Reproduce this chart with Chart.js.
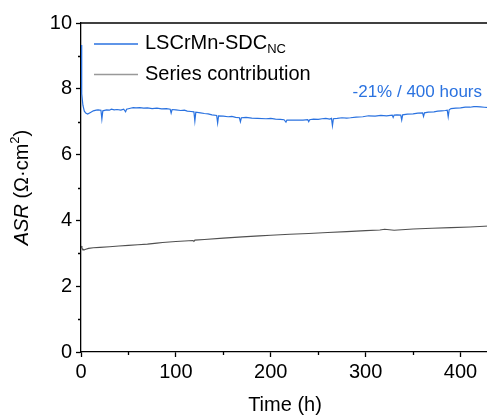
<!DOCTYPE html>
<html>
<head>
<meta charset="utf-8">
<script src="https://cdn.jsdelivr.net/npm/chart.js@4/dist/chart.umd.min.js"></script>
<style>
  html, body { margin: 0; padding: 0; background: #fff; overflow: hidden; }
  #wrap { width: 489px; height: 415px; }
</style>
</head>
<body>
<div id="wrap"><canvas id="myChart" width="489" height="415"></canvas></div>
<script>
// LSCrMn-SDC_NC cell ASR vs time
let timeCell = [0, 0.5, 1, 2, 3.5, 5, 7, 10, 13, 16, 18, 21, 22, 23, 27, 30, 32, 35, 38, 42, 45, 47, 48, 52, 55, 58, 62, 66, 70, 75, 80, 85, 90, 94, 95, 96,
    100, 105, 109, 112, 116, 119, 120, 121, 126, 130, 134, 138, 143, 144, 145, 150, 155, 159, 163, 167, 168, 169, 174, 180, 186, 195, 200, 205, 210, 214, 216, 217, 225, 234,
    239, 240, 241, 245, 250, 254, 258, 262, 264, 265, 266, 270, 275, 280, 284, 290, 297, 303, 310, 316, 322, 328, 329, 330, 333, 337, 338, 339, 344, 350, 355, 360, 361, 362,
    366, 372, 376, 380, 384, 386, 387, 388, 390, 395, 400, 405, 410, 414, 417, 421, 425, 430];
let asrCell = [9.33, 8.3, 7.85, 7.5, 7.32, 7.26, 7.23, 7.28, 7.33, 7.35, 7.36, 7.35, 7.08, 7.33, 7.36, 7.35, 7.38, 7.36, 7.37, 7.35, 7.38, 7.3, 7.38, 7.41, 7.43, 7.42, 7.43, 7.41, 7.42, 7.40, 7.41, 7.39, 7.40, 7.38, 7.26, 7.37,
    7.36, 7.34, 7.35, 7.32, 7.31, 7.3, 7.02, 7.29, 7.27, 7.25, 7.24, 7.21, 7.19, 6.96, 7.18, 7.17, 7.15, 7.16, 7.13, 7.12, 7.0, 7.12, 7.13, 7.11, 7.1, 7.09, 7.1, 7.08, 7.07, 7.06, 6.99, 7.05, 7.05, 7.05,
    7.06, 7.0, 7.06, 7.08, 7.07, 7.09, 7.1, 7.08, 7.1, 6.88, 7.09, 7.1, 7.12, 7.11, 7.12, 7.14, 7.15, 7.18, 7.17, 7.19, 7.18, 7.2, 7.13, 7.2, 7.21, 7.2, 7.05, 7.21, 7.23, 7.24, 7.26, 7.27, 7.16, 7.27,
    7.29, 7.3, 7.32, 7.33, 7.34, 7.35, 7.15, 7.36, 7.4, 7.41, 7.42, 7.44, 7.44, 7.46, 7.46, 7.45, 7.44, 7.43];

// series (ohmic) contribution
let timeSeries = [0, 1, 3, 5, 8, 13, 20, 30, 40, 50, 60, 70, 80, 86, 100, 118, 119, 120, 130, 150, 170, 188, 200, 220, 240, 260, 280, 300, 315, 320, 330, 350, 370, 390, 410, 430];
let asrSeries = [3.22, 3.15, 3.1, 3.12, 3.15, 3.17, 3.18, 3.2, 3.22, 3.24, 3.26, 3.28, 3.31, 3.33, 3.36, 3.39, 3.36, 3.4, 3.42, 3.46, 3.5, 3.53, 3.55, 3.58, 3.6, 3.63, 3.66, 3.69, 3.71, 3.73, 3.7, 3.74, 3.76, 3.78, 3.8, 3.83];

let xMinorTicks = [50, 150, 250, 350];
let yMinorTicks = [1, 3, 5, 7, 9];

let blue = '#2a72e0';
let grey = '#505050';
let fontFamily = 'Arial, "Liberation Sans", sans-serif';

function toPoints(xs, ys){
    let pts = [];
    for(let i in xs){
        pts.push({x: xs[i], y: ys[i]});
    }
    return pts;
}

let extras = {
    id: 'extras',
    afterDraw: function(chart){
        let ctx = chart.ctx;
        let area = chart.chartArea;
        let xs = chart.scales.x;
        let ys = chart.scales.y;
        ctx.save();

        // top frame line
        ctx.strokeStyle = '#000';
        ctx.lineWidth = 1.3;
        ctx.beginPath();
        ctx.moveTo(area.left, area.top);
        ctx.lineTo(area.right, area.top);
        ctx.stroke();

        // minor ticks
        ctx.beginPath();
        for(let v of xMinorTicks){
            let px = Math.round(xs.getPixelForValue(v)) + 0.5;
            ctx.moveTo(px, area.bottom);
            ctx.lineTo(px, area.bottom + 3);
        }
        for(let v of yMinorTicks){
            let py = Math.round(ys.getPixelForValue(v)) + 0.5;
            ctx.moveTo(area.left, py);
            ctx.lineTo(area.left - 3, py);
        }
        ctx.stroke();

        // y title: ASR (Ω·cm²)
        ctx.translate(22, (area.top + area.bottom) / 2);
        ctx.rotate(-Math.PI / 2);
        ctx.textBaseline = 'middle';
        ctx.fillStyle = '#000';
        let fItal = 'italic 20px ' + fontFamily;
        let fReg = '20px ' + fontFamily;
        let fSup = '13px ' + fontFamily;
        ctx.font = fItal; let w1 = ctx.measureText('ASR').width;
        ctx.font = fReg; let w2 = ctx.measureText(' (\u03A9\u00B7cm').width;
        ctx.font = fSup; let w3 = ctx.measureText('2').width;
        ctx.font = fReg; let w4 = ctx.measureText(')').width;
        let x0 = -(w1 + w2 + w3 + w4) / 2;
        ctx.textAlign = 'left';
        ctx.font = fItal; ctx.fillText('ASR', x0, 0);
        ctx.font = fReg; ctx.fillText(' (\u03A9\u00B7cm', x0 + w1, 0);
        ctx.font = fSup; ctx.fillText('2', x0 + w1 + w2, -7);
        ctx.font = fReg; ctx.fillText(')', x0 + w1 + w2 + w3, 0);
        ctx.restore();

        // legend
        ctx.save();
        ctx.textBaseline = 'middle';
        ctx.textAlign = 'left';
        ctx.lineWidth = 1.3;
        let rows = [
            {y: 43.5, color: blue, text: 'LSCrMn-SDC', sub: 'NC'},
            {y: 74, color: '#999999', text: 'Series contribution', sub: ''}
        ];
        for(let r of rows){
            ctx.strokeStyle = r.color;
            ctx.beginPath();
            ctx.moveTo(94, r.y + 0.5);
            ctx.lineTo(138, r.y + 0.5);
            ctx.stroke();
            ctx.fillStyle = '#000';
            ctx.font = '20px ' + fontFamily;
            ctx.fillText(r.text, 145, r.y);
            if(r.sub){
                let w = ctx.measureText(r.text).width;
                ctx.font = '13px ' + fontFamily;
                ctx.fillText(r.sub, 145 + w, r.y + 6);
            }
        }

        // annotation
        ctx.fillStyle = blue;
        ctx.font = '17px ' + fontFamily;
        ctx.textAlign = 'right';
        ctx.fillText('-21% / 400 hours', 482, 92.5);
        ctx.restore();
    }
};

let myChart = new Chart(document.getElementById('myChart'), {
    type: 'line',
    data: {
        datasets: [
            {
                label: 'LSCrMn-SDC_NC',
                data: toPoints(timeCell, asrCell),
                borderColor: blue,
                borderWidth: 1.2,
                pointRadius: 0,
                tension: 0
            },
            {
                label: 'Series contribution',
                data: toPoints(timeSeries, asrSeries),
                borderColor: grey,
                borderWidth: 1.1,
                pointRadius: 0,
                tension: 0
            }
        ]
    },
    options: {
        responsive: false,
        animation: false,
        layout: {padding: {top: 23, right: 0, left: 0, bottom: 0}},
        plugins: {
            legend: {display: false},
            tooltip: {enabled: false}
        },
        scales: {
            x: {
                type: 'linear',
                min: 0,
                max: 430,
                afterFit: function(scale){ scale.height = 63; },
                border: {color: '#000', width: 1.3},
                grid: {drawOnChartArea: false, tickLength: 5, tickColor: '#000', tickWidth: 1.3},
                ticks: {stepSize: 100, includeBounds: false, color: '#000', padding: 3, maxRotation: 0,
                    font: {size: 20, family: fontFamily}},
                title: {display: true, text: 'Time (h)', color: '#000', padding: 0,
                    font: {size: 20, family: fontFamily, lineHeight: 1}}
            },
            y: {
                min: 0,
                max: 10,
                afterFit: function(scale){ scale.width = 81; },
                border: {color: '#000', width: 1.3},
                grid: {drawOnChartArea: false, tickLength: 5, tickColor: '#000', tickWidth: 1.3},
                ticks: {stepSize: 2, color: '#000', padding: 4,
                    font: {size: 20, family: fontFamily}}
            }
        }
    },
    plugins: [extras]
});
</script>
</body>
</html>
